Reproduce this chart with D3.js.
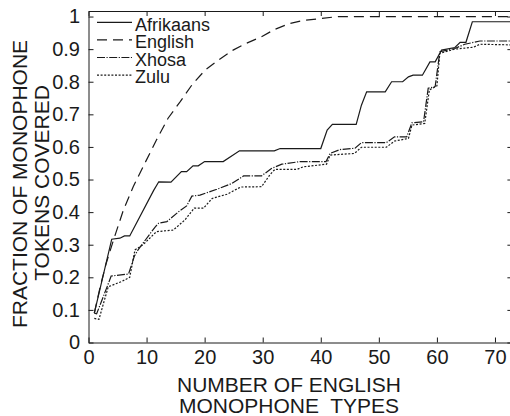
<!DOCTYPE html>
<html><head><meta charset="utf-8">
<script src="https://cdn.jsdelivr.net/npm/d3@7"></script>
<style>
html,body{margin:0;padding:0;background:#fff;}
svg{display:block;font-family:"Liberation Sans",Arial,sans-serif;}
</style></head>
<body><svg id="c" width="510" height="416"></svg>
<script>
const afrX=[1,4,5.4,6.2,7.1,11.2,12.1,14.2,16,16.9,18,18.9,20,23.2,26,32,33,40,41.1,42,46.1,47,47.9,51.1,52.2,54.1,55.1,55.9,57.5,58.8,59.7,60.8,63.1,64,65,66.1,73];
const afrY=[.09,.317,.32,.327,.327,.466,.493,.492,.524,.524,.542,.542,.555,.555,.588,.588,.595,.595,.652,.669,.669,.728,.769,.769,.80,.80,.815,.82,.82,.861,.861,.897,.905,.921,.921,.984,.984];
const engX=[1,2,3,4.3,6,7.7,9.7,11.7,13.7,15.8,17.8,20.1,22.4,24.9,27.2,29.8,32,34.7,37,40,43,73];
const engY=[.09,.17,.24,.314,.406,.478,.55,.621,.688,.739,.79,.836,.867,.897,.918,.938,.96,.979,.988,.994,1.0,1.0];
const xhoX=[1,1.4,3.4,3.9,6.9,7.9,8.6,11.5,12.1,13.5,15.5,16.9,17.8,19.2,22.1,24.7,26.7,29.8,31.5,33.3,36.4,40.9,41.6,43.3,45.9,47,51.3,52.7,54.8,55.7,57.7,58.5,59.7,60.5,63.1,64.8,67.4,73];
const xhoY=[.09,.088,.18,.204,.21,.265,.286,.355,.366,.371,.401,.419,.449,.452,.47,.488,.511,.511,.534,.547,.555,.555,.58,.592,.596,.613,.613,.631,.631,.674,.677,.78,.785,.892,.902,.915,.925,.925];
const zulX=[1,1.8,3.4,5.7,7.1,8,9.4,11.7,14.6,16.6,18.2,19.8,21.3,23.9,26.2,29.8,31.3,32.1,35.9,37,41,41.6,45.8,47,51.3,52.7,55.1,55.7,57.9,58.7,60,60.5,63.1,66.3,67.4,73];
const zulY=[.074,.071,.171,.187,.2,.284,.3,.34,.345,.376,.412,.412,.442,.455,.477,.478,.516,.531,.531,.539,.547,.575,.58,.599,.599,.618,.626,.667,.672,.775,.787,.887,.9,.906,.915,.913];
const seriesNames=["Afrikaans","English","Xhosa","Zulu"];
const xTicks=[0,10,20,30,40,50,60,70];
const yTicks=[0,0.1,0.2,0.3,0.4,0.5,0.6,0.7,0.8,0.9,1];
const yTickLabels=["0","0.1","0.2","0.3","0.4","0.5","0.6","0.7","0.8","0.9","1"];
const xLabel=["NUMBER OF ENGLISH","MONOPHONE  TYPES"];
const yLabel=["FRACTION OF MONOPHONE","TOKENS COVERED"];

const svg=d3.select("#c");
const L=88.5,R=512.4,T=11,B=342.5;
const x=d3.scaleLinear().domain([0,73]).range([L,R]);
const y=d3.scaleLinear().domain([0,1.017]).range([B,T]);
const ink="#1a1a1a";

const series=[
 {xs:afrX,ys:afrY,dash:null},
 {xs:engX,ys:engY,dash:"10,6"},
 {xs:xhoX,ys:xhoY,dash:"8,1.5,1.2,1.5"},
 {xs:zulX,ys:zulY,dash:"2,1.6"}
];
const line=d3.line().x(d=>x(d[0])).y(d=>y(d[1]));
series.forEach(s=>{
  const pts=s.xs.map((v,i)=>[v,s.ys[i]]);
  svg.append("path").attr("d",line(pts)).attr("fill","none").attr("stroke",ink)
    .attr("stroke-width",1.2).attr("stroke-dasharray",s.dash);
});

// axes
const fs=20;
const gB=svg.append("g").attr("transform",`translate(0,${B})`)
  .call(d3.axisBottom(x).tickValues(xTicks).tickSizeInner(-5).tickSizeOuter(0).tickPadding(7.5));
const gT=svg.append("g").attr("transform",`translate(0,${T})`)
  .call(d3.axisTop(x).tickValues(xTicks).tickSizeInner(-5).tickSizeOuter(0).tickFormat(""));
const gL=svg.append("g").attr("transform",`translate(${L},0)`)
  .call(d3.axisLeft(y).tickValues(yTicks).tickSizeInner(-5).tickSizeOuter(0).tickPadding(8.5)
    .tickFormat((d,i)=>yTickLabels[i]));
const gR=svg.append("g").attr("transform",`translate(${R},0)`)
  .call(d3.axisRight(y).tickValues(yTicks).tickSizeInner(-5).tickSizeOuter(0).tickFormat(""));
[gB,gT,gL,gR].forEach(g=>{
  g.selectAll("path.domain").attr("stroke",ink).attr("stroke-width",1);
  g.selectAll("line").attr("stroke",ink);
  g.selectAll("text").attr("fill",ink).style("font-size",fs+"px").style("font-family","'Liberation Sans',Arial,sans-serif");
});

// axis labels
const lfs=21;
svg.append("text").attr("x",289).attr("y",391.5).attr("text-anchor","middle")
  .style("font-size",lfs+"px").attr("fill",ink).text(xLabel[0]);
svg.append("text").attr("x",289).attr("y",413).attr("text-anchor","middle")
  .style("font-size",lfs+"px").attr("fill",ink).style("white-space","pre").attr("xml:space","preserve").text(xLabel[1]);
svg.append("text").attr("transform","translate(27,184) rotate(-90)").attr("text-anchor","middle")
  .style("font-size",lfs+"px").attr("fill",ink).text(yLabel[0]);
svg.append("text").attr("transform","translate(48.5,183) rotate(-90)").attr("text-anchor","middle")
  .style("font-size",lfs+"px").attr("fill",ink).text(yLabel[1]);

// legend
const lg=svg.append("g");
seriesNames.forEach((n,i)=>{
  const yy=22.3+i*17.6;
  lg.append("line").attr("x1",97).attr("x2",132).attr("y1",yy).attr("y2",yy)
    .attr("stroke",ink).attr("stroke-width",1.2).attr("stroke-dasharray",series[i].dash);
  lg.append("text").attr("x",135).attr("y",yy+8.2).style("font-size","18px").attr("fill",ink).text(n);
});
</script></body></html>
